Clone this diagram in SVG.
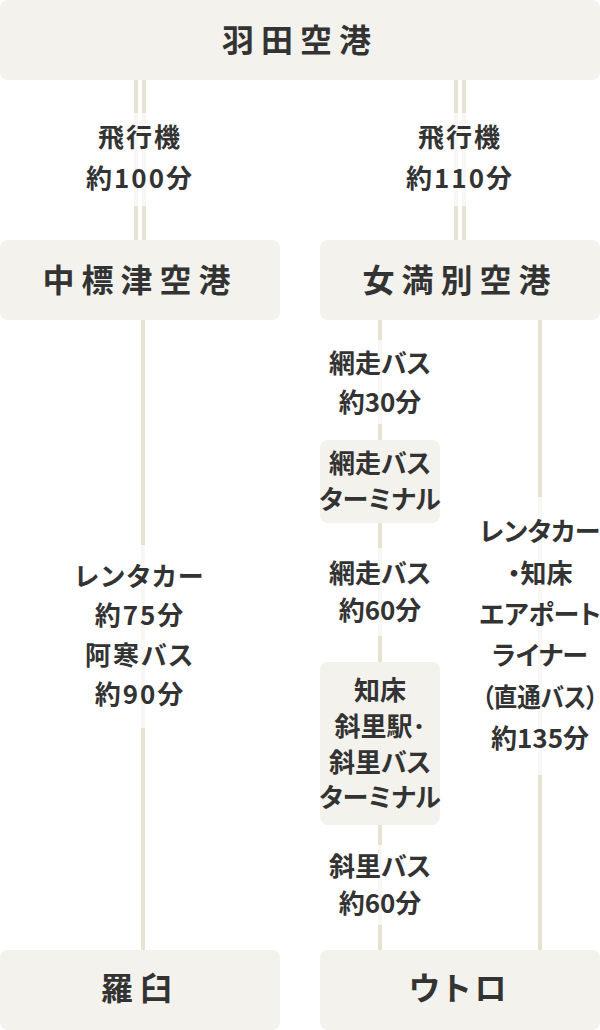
<svg xmlns="http://www.w3.org/2000/svg" width="600" height="1030" viewBox="0 0 600 1030">
<style>
.box{fill:#f3f2ed}
.ln{stroke:#e6e3d2;stroke-width:4;fill:none}
.veil{fill:#ffffff;fill-opacity:0.72}
.t{font-family:"Noto Sans CJK JP","Noto Sans",sans-serif;font-weight:700;fill:#333;text-anchor:middle;font-feature-settings:"palt"}
.ttl{font-size:32px;letter-spacing:7px}
.lb{font-size:26px;letter-spacing:0px}
.sp{letter-spacing:2px}
</style>
<g id="connectors">
<line class="ln" x1="136" y1="80" x2="136" y2="240"/>
<line class="ln" x1="144" y1="80" x2="144" y2="240"/>
<line class="ln" x1="456" y1="80" x2="456" y2="240"/>
<line class="ln" x1="464" y1="80" x2="464" y2="240"/>
<line class="ln" x1="143" y1="320" x2="143" y2="950"/>
<line class="ln" x1="380" y1="320" x2="380" y2="440"/>
<line class="ln" x1="380" y1="523" x2="380" y2="662"/>
<line class="ln" x1="380" y1="825" x2="380" y2="950"/>
<line class="ln" x1="540" y1="320" x2="540" y2="950"/>
</g>
<g id="label-haneda-nakashibetsu">
<rect class="veil" x="125" y="113" width="30" height="93"/>
<text class="t lb sp" x="140" y="147">飛行機</text>
<text class="t lb sp" x="140" y="188">約100分</text>
</g>
<g id="label-haneda-memanbetsu">
<rect class="veil" x="445" y="113" width="30" height="93"/>
<text class="t lb sp" x="460" y="147">飛行機</text>
<text class="t lb sp" x="460" y="188">約110分</text>
</g>
<g id="label-nakashibetsu-rausu">
<rect class="veil" x="135" y="545" width="16" height="183"/>
<text class="t lb sp" x="140" y="586">レンタカー</text>
<text class="t lb sp" x="140" y="625">約75分</text>
<text class="t lb sp" x="140" y="665">阿寒バス</text>
<text class="t lb sp" x="140" y="704">約90分</text>
</g>
<g id="label-memanbetsu-abashiri">
<rect class="veil" x="374" y="340" width="12" height="84"/>
<text class="t lb" x="380" y="373">網走バス</text>
<text class="t lb" x="380" y="412">約30分</text>
</g>
<g id="label-abashiri-shari">
<rect class="veil" x="374" y="548" width="12" height="88"/>
<text class="t lb" x="380" y="583">網走バス</text>
<text class="t lb" x="380" y="620">約60分</text>
</g>
<g id="label-shari-utoro">
<rect class="veil" x="374" y="845" width="12" height="80"/>
<text class="t lb" x="380" y="876">斜里バス</text>
<text class="t lb" x="380" y="913">約60分</text>
</g>
<g id="label-memanbetsu-utoro">
<rect class="veil" x="534" y="497" width="12" height="278"/>
<text class="t lb" x="540" y="541">レンタカー</text>
<text class="t lb" x="540" y="583">・知床</text>
<text class="t lb" x="540" y="624">エアポート</text>
<text class="t lb" x="540" y="665">ライナー</text>
<text class="t lb" x="540" y="707" textLength="116" lengthAdjust="spacingAndGlyphs">（直通バス）</text>
<text class="t lb" x="540" y="748">約135分</text>
</g>
<g id="haneda">
<rect class="box" x="0" y="0" width="600" height="80" rx="8"/>
<text class="t ttl" x="300" y="52">羽田空港</text>
</g>
<g id="nakashibetsu">
<rect class="box" x="0" y="240" width="280" height="80" rx="8"/>
<text class="t ttl" x="140" y="292">中標津空港</text>
</g>
<g id="memanbetsu">
<rect class="box" x="320" y="240" width="280" height="80" rx="8"/>
<text class="t ttl" x="460" y="292">女満別空港</text>
</g>
<g id="abashiri-bus-terminal">
<rect class="box" x="320" y="440" width="120" height="83" rx="8"/>
<text class="t lb" x="380" y="473">網走バス</text>
<text class="t lb" x="380" y="509">ターミナル</text>
</g>
<g id="shari-station">
<rect class="box" x="320" y="662" width="120" height="163" rx="8"/>
<text class="t lb" x="380" y="700">知床</text>
<text class="t lb" x="380" y="736">斜里駅･</text>
<text class="t lb" x="380" y="772">斜里バス</text>
<text class="t lb" x="380" y="807">ターミナル</text>
</g>
<g id="rausu">
<rect class="box" x="0" y="950" width="280" height="80" rx="8"/>
<text class="t ttl" x="140" y="1000">羅臼</text>
</g>
<g id="utoro">
<rect class="box" x="320" y="950" width="280" height="80" rx="8"/>
<text class="t ttl" x="460" y="1000" style="letter-spacing:4px">ウトロ</text>
</g>
</svg>
